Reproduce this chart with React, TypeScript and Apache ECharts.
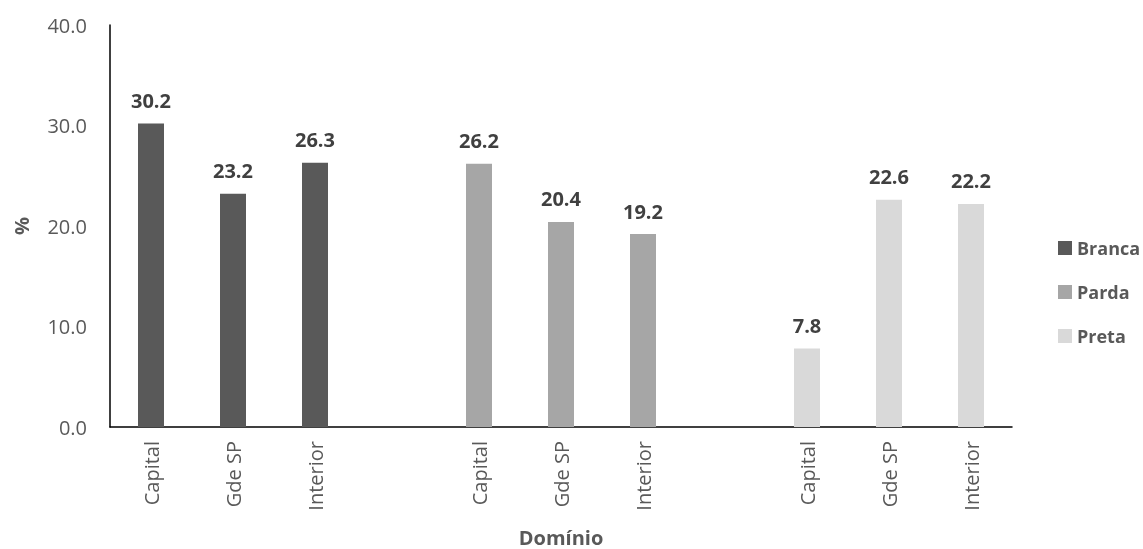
import React, { useEffect, useRef } from "react";
import * as echarts from "echarts";

const categories = ["Capital", "Gde SP", "Interior", "", "Capital", "Gde SP", "Interior", "", "Capital", "Gde SP", "Interior"];
const branca = [30.2, 23.2, 26.3, null, null, null, null, null, null, null, null];
const parda = [null, null, null, null, 26.2, 20.4, 19.2, null, null, null, null];
const preta = [null, null, null, null, null, null, null, null, 7.8, 22.6, 22.2];
const yTicks = { min: 0, max: 40, interval: 10 };

const FONT = "'Open Sans', sans-serif";

export default function App() {
  const ref = useRef<HTMLDivElement>(null);
  useEffect(() => {
    const chart = echarts.init(ref.current!, null, { renderer: "svg" });
    const mk = (name: string, data: (number | null)[], color: string) => ({
      name,
      type: "bar",
      stack: "all",
      data,
      barWidth: 26,
      itemStyle: { color },
      label: {
        show: true,
        position: "top",
        distance: 13,
        formatter: (p: any) => (p.value == null ? "" : Number(p.value).toFixed(1)),
        fontFamily: FONT,
        fontWeight: "bold",
        fontSize: 20,
        color: "#404040",
      },
    });
    chart.setOption({
      animation: false,
      textStyle: { fontFamily: FONT },
      grid: { left: 110, right: 131, top: 25, bottom: 122, containLabel: false, outerBoundsMode: "none" },
      legend: {
        orient: "vertical",
        left: 1053,
        top: 234,
        itemWidth: 14,
        itemHeight: 14,
        itemGap: 26,
        icon: "rect",
        textStyle: { fontFamily: FONT, fontSize: 18, fontWeight: "bold", color: "#595959" },
        data: ["Branca", "Parda", "Preta"],
      },
      xAxis: {
        type: "category",
        data: categories,
        name: "Domínio",
        nameLocation: "middle",
        nameGap: 100,
        nameTextStyle: { fontFamily: FONT, fontSize: 20, lineHeight: 20, fontWeight: "bold", color: "#595959" },
        axisLine: { show: true, lineStyle: { color: "#000", width: 1.5 } },
        axisTick: { show: false },
        axisLabel: { rotate: 90, margin: 14, fontSize: 20, color: "#595959", fontFamily: FONT, interval: 0 },
      },
      yAxis: {
        type: "value",
        min: yTicks.min,
        max: yTicks.max,
        interval: yTicks.interval,
        name: "%",
        nameLocation: "middle",
        nameGap: 79,
        nameRotate: 90,
        nameTextStyle: { fontFamily: FONT, fontSize: 20, fontWeight: "bold", color: "#595959" },
        axisLine: { show: true, lineStyle: { color: "#000", width: 1.5 } },
        axisTick: { show: false },
        splitLine: { show: false },
        axisLabel: {
          margin: 23,
          fontSize: 20,
          color: "#595959",
          fontFamily: FONT,
          formatter: (v: number) => v.toFixed(1),
        },
      },
      series: [mk("Branca", branca, "#595959"), mk("Parda", parda, "#a6a6a6"), mk("Preta", preta, "#d9d9d9")],
    });
    return () => chart.dispose();
  }, []);
  return <div ref={ref} style={{ position: "fixed", left: 0, top: 0, width: 1143, height: 549 }} />;
}
